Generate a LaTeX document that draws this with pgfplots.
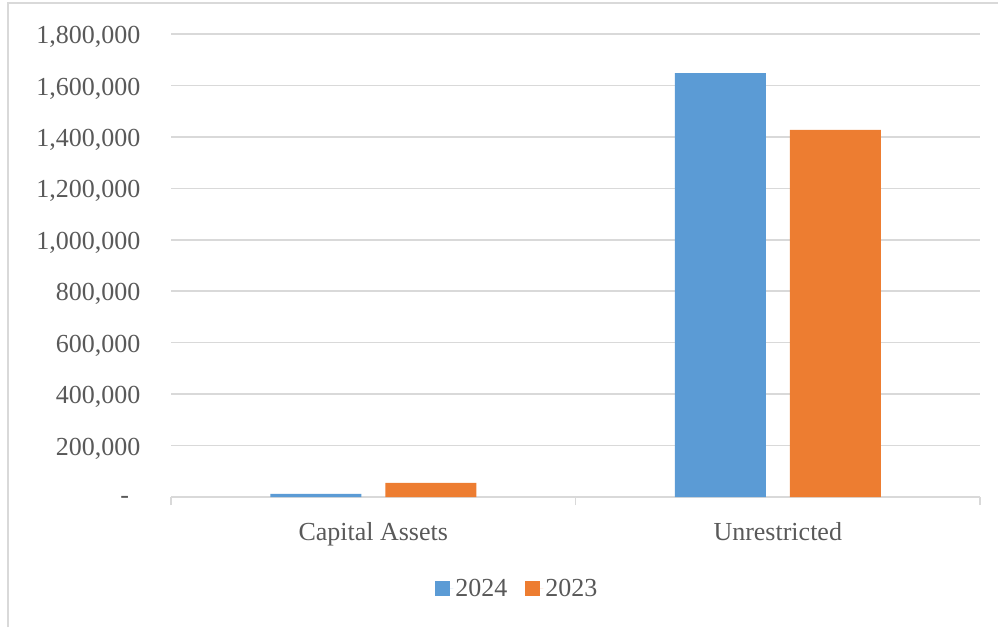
\documentclass[border=0pt]{standalone}
\usepackage{fontspec}
\setmainfont{Liberation Serif}
\usepackage{pgfplots}
\pgfplotsset{compat=1.18}

\definecolor{s2024}{HTML}{5B9BD5}
\definecolor{s2023}{HTML}{ED7D31}
\definecolor{gridc}{HTML}{D9D9D9}
\definecolor{txt}{HTML}{595959}

\begin{document}
\begin{tikzpicture}
% page: 998 x 627, one px = one pt
\useasboundingbox (0pt,0pt) rectangle (998pt,-627pt);
\draw[gridc, line width=2pt] (8pt,-627pt) -- (8pt,-3pt) -- (998pt,-3pt);

\begin{axis}[
    at={(171pt,-497pt)}, anchor=south west,
    scale only axis,
    width=809pt, height=463pt,
    ybar=24pt, bar width=91pt,
    xmin=-0.5, xmax=1.5,
    ymin=0, ymax=1800000,
    scaled y ticks=false,
    xtick={0,1},
    xticklabels={Capital Assets, Unrestricted},
    minor xtick={-0.5,0.5,1.5},
    ytick={0,200000,400000,600000,800000,1000000,1200000,1400000,1600000,1800000},
    yticklabels={{\makebox[20pt][l]{-}},{200,000},{400,000},{600,000},{800,000},{1,000,000},{1,200,000},{1,400,000},{1,600,000},{1,800,000}},
    axis lines*=left,
    y axis line style={draw=none},
    x axis line style={gridc, line width=1.5pt},
    ymajorgrids=true,
    grid style={gridc, line width=1.5pt},
    major tick length=0pt,
    minor tick length=8pt,
    tick align=outside,
    minor x tick style={gridc, line width=1.5pt},
    ytick style={draw=none},
    every tick label/.append style={font=\fontsize{26}{30}\selectfont, text=txt},
    yticklabel style={xshift=-27pt, yshift=-3pt},
    xticklabel style={yshift=-22pt},
    legend columns=2,
    legend style={at={(0.428,-0.198)}, anchor=center, draw=none,
        font=\fontsize{26}{30}\selectfont, text=txt,
        /tikz/every even column/.append style={column sep=16pt}},
    legend image code/.code={\fill[#1] (0pt,-7.5pt) rectangle (15pt,7.5pt);
        \path (0pt,0pt) -- (18pt,0pt);},
]
\addplot[fill=s2024, draw=none] coordinates {(0,12000) (1,1648000)};
\addplot[fill=s2023, draw=none] coordinates {(0,54500) (1,1427000)};
\legend{2024,2023}
\end{axis}
\end{tikzpicture}
\end{document}
